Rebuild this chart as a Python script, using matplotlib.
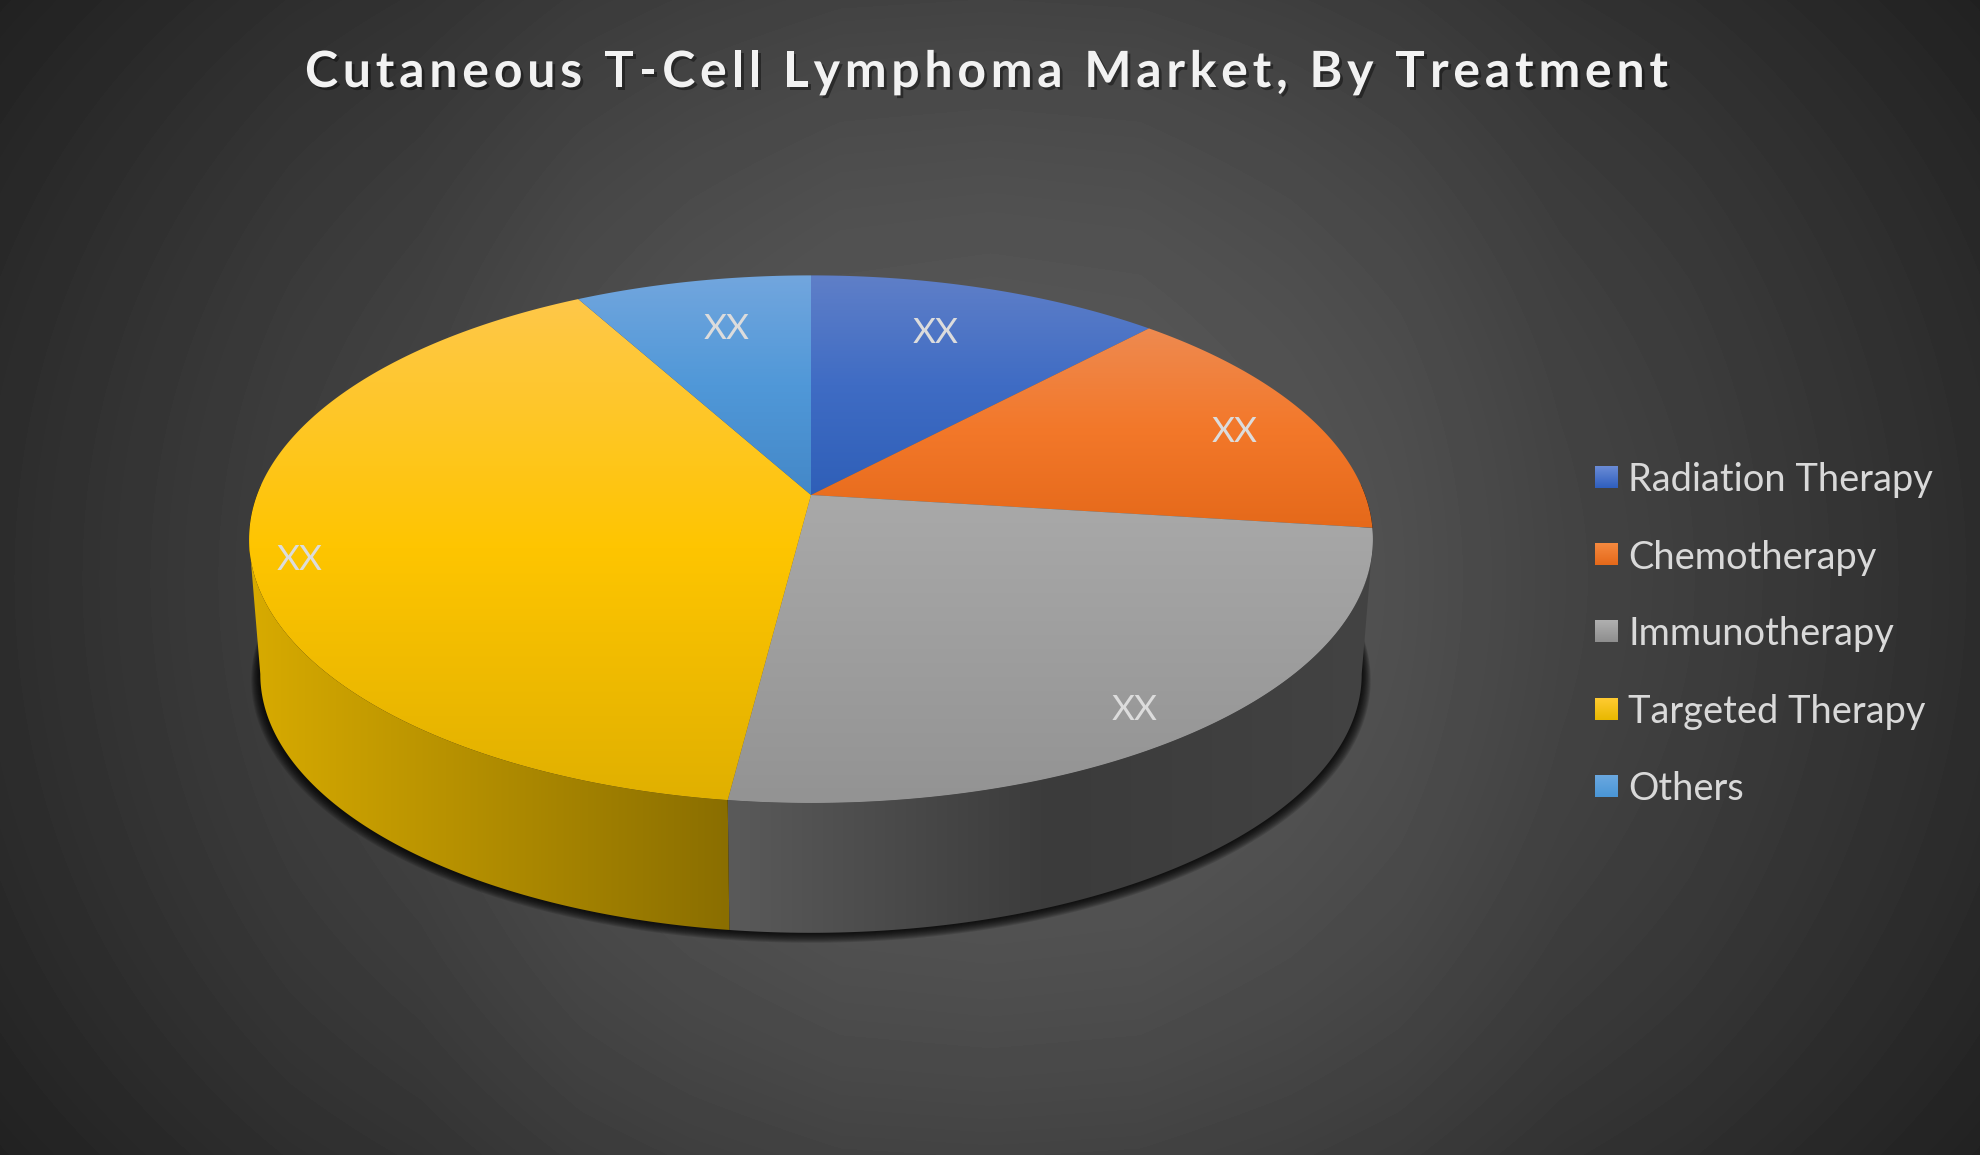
import matplotlib
matplotlib.use('Agg')
import matplotlib.pyplot as plt
import matplotlib.patheffects as pe
import numpy as np
from matplotlib.colors import LinearSegmentedColormap
from matplotlib.patches import Polygon
from matplotlib.text import Text

title = 'Cutaneous T-Cell Lymphoma Market, By Treatment'
categories = ['Radiation Therapy', 'Chemotherapy', 'Immunotherapy', 'Targeted Therapy', 'Others']
values = [12, 15, 25, 40, 8]
value_labels = ['XX', 'XX', 'XX', 'XX', 'XX']

# top face colours, top to bottom of each slice
top_stops = [['#5f7fc8', '#3f6cc4', '#2f5fb8'],
             ['#ee8a50', '#f3782a', '#e5691a'],
             ['#a9a9a9', '#939393'],
             ['#ffc84a', '#fec500', '#e0b000'],
             ['#72a6de', '#5098d8', '#4488c8']]
# side colours, left to right
side_stops = {2: ['#5a5a5a', '#3b3b3b', '#434343'],
              3: ['#d8ab00', '#8a6e00']}
legend_cols = [['#6a8bd6', '#2f5fbe'], ['#f5893f', '#e5691a'], ['#b0b0b0', '#8e8e8e'],
               ['#ffcb32', '#e8b800'], ['#6aa8e0', '#4a96d6']]

# pixel positions of the data labels
label_xy = [(936, 333), (1235, 432), (1135, 710), (300, 560), (727, 329)]

# perspective of the pie disc
cx, cy = 811, 495
a, b, k = 256.4, 554, 0.1675
depth, base_scale = 136, 0.98
t_left, t_right = 260.4, 99.6


def project(t, r=1.0, s=1.0, dy=0.0):
    t = np.radians(t)
    x = r * np.sin(t)
    y = r * np.cos(t)
    w = 1 + k * y
    return cx + s * b * x / w, cy + dy - s * a * y / w


class SpacedText(Text):
    # one text, drawn with letter spacing
    spacing = 0

    def draw(self, renderer):
        full = self.get_text()
        x0 = self.get_position()[0]
        prop = self.get_fontproperties()
        for i, ch in enumerate(full):
            if ch == ' ':
                continue
            w = renderer.get_text_width_height_descent(full[:i + 1], prop, False)[0]
            w1 = renderer.get_text_width_height_descent(ch, prop, False)[0]
            self.set_text(ch)
            self.set_x(x0 + w - w1 + i * self.spacing)
            super().draw(renderer)
        self.set_text(full)
        self.set_x(x0)


def fill_grad(xs, ys, stops, vertical, z):
    poly = Polygon(np.c_[xs, ys], closed=True, fc='none', ec='none', zorder=z)
    ax.add_patch(poly)
    g = np.linspace(0, 1, 256)
    g = g.reshape(-1, 1) if vertical else g.reshape(1, -1)
    cm = LinearSegmentedColormap.from_list('g', stops)
    im = ax.imshow(g, cmap=cm, extent=[min(xs), max(xs), max(ys), min(ys)], aspect='auto',
                   interpolation='bilinear', zorder=z)
    im.set_clip_path(poly)


fig = plt.figure(figsize=(19.8, 11.55), dpi=100)
ax = fig.add_axes([0, 0, 1, 1])

# background
yy, xx = np.mgrid[0:1155, 0:1980]
fx = 1 - np.interp(np.abs(xx - 990), [0, 150, 300, 410, 570, 700, 990], [0, 1, 6, 11, 22, 28, 45]) / 90
fy = 1 - 7.7e-7 * (yy - 578) ** 2
bg = 90 * fx * fy / 255
ax.imshow(bg, cmap='gray', vmin=0, vmax=1, extent=[0, 1980, 1155, 0], aspect='auto', zorder=0)

edges = np.cumsum([0] + values) / sum(values) * 360

# shadow under the base
arc = np.linspace(t_right - 12, t_left + 12, 300)
for i in range(10, 0, -1):
    xs, ys = project(arc, s=base_scale + i * 0.0016, dy=depth + i * 0.5)
    tx, ty = project(arc[::-1])
    ax.add_patch(Polygon(np.c_[np.r_[xs, tx], np.r_[ys, ty]], fc='black', ec='none', alpha=0.13, zorder=1))

# sides
for i in range(len(values)):
    t0 = max(edges[i], t_right)
    t1 = min(edges[i + 1], t_left)
    if t1 <= t0:
        continue
    arc = np.linspace(t0, t1, 200)
    x1, y1 = project(arc)
    x2, y2 = project(arc[::-1], s=base_scale, dy=depth)
    fill_grad(np.r_[x1, x2], np.r_[y1, y2], side_stops[i], False, 2)

# top faces
for i in range(len(values)):
    arc = np.linspace(edges[i], edges[i + 1], 200)
    x1, y1 = project(arc)
    fill_grad(np.r_[cx, x1], np.r_[cy, y1], top_stops[i], True, 3)

for lab, (x, y) in zip(value_labels, label_xy):
    ax.text(x, y, lab, color='#dcdcdc', fontsize=25.5, family='Lato',
            ha='center', va='center', zorder=5)

t = SpacedText(305, 87, title, color='#f2f2f2', fontsize=36, family='Lato', fontweight='bold',
               ha='left', va='baseline', zorder=5)
t.spacing = 4.8
t.set_path_effects([pe.withSimplePatchShadow(offset=(2, -2), alpha=0.4, shadow_rgbFace='black')])
ax.add_artist(t)

# legend
legend_y = [477, 554, 631, 709, 786]
for i, name in enumerate(categories):
    ax.imshow(np.linspace(0, 1, 64).reshape(-1, 1), cmap=LinearSegmentedColormap.from_list('l', legend_cols[i]),
              extent=[1595, 1618, legend_y[i] + 11, legend_y[i] - 11], aspect='auto', zorder=4)
    ax.text(1628, legend_y[i], name, color='#d9d9d9', fontsize=27.4, family='Lato',
            ha='left', va='center_baseline', zorder=5)

ax.set_xlim(0, 1980)
ax.set_ylim(1155, 0)
ax.axis('off')
fig.savefig('out.png', dpi=100)
